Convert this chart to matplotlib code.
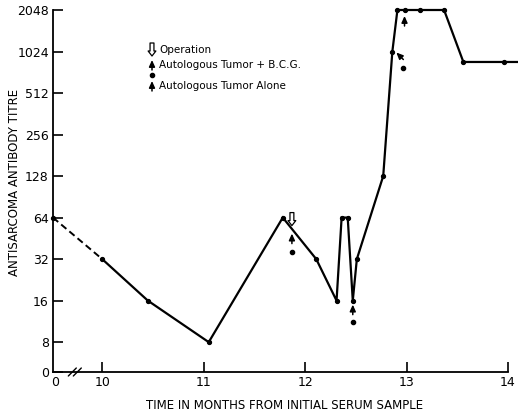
import matplotlib
matplotlib.use("Agg")
import matplotlib.pyplot as plt
from matplotlib.transforms import ScaledTranslation, blended_transform_factory

# ---- data ----
months = [0, 10.0, 10.45, 11.05, 11.78, 12.11, 12.31, 12.36, 12.42, 12.47, 12.51,
          12.77, 12.86, 12.91, 12.98, 13.13, 13.37, 13.56, 13.96]
titres = [64, 32, 16, 8, 64, 32, 16, 64, 64, 16, 32,
          128, 1024, 2048, 2048, 2048, 2048, 860, 860]
line_end_month = 14.10           # line runs on past the last sample
line_end_titre = 860

y_ticks = [8, 16, 32, 64, 128, 256, 512, 1024, 2048]
y_labels = ["8", "16", "32", "64", "128", "256", "512", "1024", "2048"]
x_ticks = [10, 11, 12, 13, 14]
x_labels = ["10", "11", "12", "13", "14"]

# event markers (month, anchor titre)
op_event = (11.87, 64)
bcg_events = [(11.87, 64), (12.47, 16)]
bcg_diag_event = (12.86, 1024)
alone_events = [(12.98, 2048)]

X0 = 9.515       # where month 0 sits on the broken axis
Y0 = 4.86        # where titre "0" sits on the log axis

fig = plt.figure(figsize=(5.18, 4.15), dpi=100)
ax = fig.add_axes([53/518, 1-372/415, (508-53)/518, (372-10)/415])
ax.set_yscale("log", base=2)
ax.set_xlim(X0, 14)
ax.set_ylim(Y0, 2048)
ax.minorticks_off()

px = [X0 if m == 0 else m for m in months]
# dashed first segment, then solid
ax.plot(px[:2], titres[:2], color="black", lw=1.4, ls=(0, (3.5, 2)))
ax.plot(px[1:] + [line_end_month], titres[1:] + [line_end_titre],
        color="black", lw=1.6, clip_on=False, solid_joinstyle="miter")
ax.plot(px, titres, "o", color="black", ms=2.8, clip_on=False)

for s in ["top", "right"]:
    ax.spines[s].set_visible(False)
for s in ["left", "bottom"]:
    ax.spines[s].set_linewidth(1.3)

ax.set_yticks([Y0] + y_ticks)
ax.set_yticklabels(["0"] + y_labels)
ax.set_xticks(x_ticks)
ax.set_xticklabels(x_labels)
ax.tick_params(axis="y", direction="in", length=7, width=1.2, pad=3, labelsize=9)
ax.tick_params(axis="x", direction="in", length=7, width=1.2, pad=3, labelsize=9)
# "0" at the origin on the x axis
ax.text(X0, Y0, "0", transform=ax.transData + ScaledTranslation(2/100, -10/100, fig.dpi_scale_trans),
        ha="center", va="center", fontsize=9)

# axis break marks
tb = blended_transform_factory(ax.transData, ax.transAxes)
for dx in (-2.5, 2.5):
    ax.annotate("", xy=(9.73, 0), xycoords=tb + ScaledTranslation((dx+4)/100, 4/100, fig.dpi_scale_trans),
                xytext=(9.73, 0), textcoords=tb + ScaledTranslation((dx-4)/100, -4/100, fig.dpi_scale_trans),
                arrowprops=dict(arrowstyle="-", lw=1.0, color="black", shrinkA=0, shrinkB=0),
                annotation_clip=False)

def pxoff(dx, dy):
    return ax.transData + ScaledTranslation(dx/100, -dy/100, fig.dpi_scale_trans)

ARROW = dict(arrowstyle="-|>,head_length=0.55,head_width=0.25", lw=1.1, color="black",
             mutation_scale=7, shrinkA=0, shrinkB=0)
OPARROW = dict(arrowstyle="simple,head_length=0.45,head_width=0.7,tail_width=0.35",
               fc="white", ec="black", lw=0.9, mutation_scale=8, shrinkA=0, shrinkB=0)

def up_arrow(x, y, head, tail, dxh=0, dxt=0):
    ax.annotate("", xy=(x, y), xycoords=pxoff(dxh, head), xytext=(x, y),
                textcoords=pxoff(dxt, tail), arrowprops=ARROW, annotation_clip=False)

def dot(x, y, dx, dy):
    ax.plot([x], [y], "o", color="black", ms=3.0, transform=pxoff(dx, dy), clip_on=False)

def op_arrow(x, y, top, bottom):
    ax.annotate("", xy=(x, y), xycoords=pxoff(0, bottom), xytext=(x, y),
                textcoords=pxoff(0, top), arrowprops=OPARROW, annotation_clip=False)

# operation at ~11.87
op_arrow(op_event[0], op_event[1], -5, 8)
# autologous tumor + BCG (arrow + dot)
up_arrow(bcg_events[0][0], bcg_events[0][1], 16, 26)
dot(bcg_events[0][0], bcg_events[0][1], 0, 34)
up_arrow(bcg_events[1][0], bcg_events[1][1], 4, 14)
dot(bcg_events[1][0], bcg_events[1][1], 0, 21)
up_arrow(bcg_diag_event[0], bcg_diag_event[1], 1, 8, dxh=4, dxt=11)
dot(bcg_diag_event[0], bcg_diag_event[1], 11, 16)
# autologous tumor alone
for (x, y) in alone_events:
    up_arrow(x, y, 6, 16)

# legend (hand drawn, figure pixel coords)
def figpt(x, y):
    return (x/518, 1 - y/415)
ft = fig.transFigure
ax.annotate("", xy=figpt(152, 56), xycoords="figure fraction", xytext=figpt(152, 43),
            textcoords="figure fraction", arrowprops=OPARROW, annotation_clip=False)
fig.text(*figpt(159, 50), "Operation", fontsize=7.5, va="center", ha="left")
ax.annotate("", xy=figpt(152, 60), xycoords="figure fraction", xytext=figpt(152, 70),
            textcoords="figure fraction", arrowprops=ARROW, annotation_clip=False)
fig.lines.append(plt.Line2D([152/518], [1 - 75/415], marker="o", ms=3.0, color="black",
                            transform=ft, figure=fig))
fig.text(*figpt(159, 65), "Autologous Tumor + B.C.G.", fontsize=7.5, va="center", ha="left")
ax.annotate("", xy=figpt(152, 81), xycoords="figure fraction", xytext=figpt(152, 91),
            textcoords="figure fraction", arrowprops=ARROW, annotation_clip=False)
fig.text(*figpt(159, 86), "Autologous Tumor Alone", fontsize=7.5, va="center", ha="left")

fig.text(285/518, 1 - 405/415, "TIME IN MONTHS FROM INITIAL SERUM SAMPLE",
         fontsize=8.5, ha="center", va="center")
fig.text(15/518, 1 - 182/415, "ANTISARCOMA ANTIBODY TITRE",
         fontsize=8.5, ha="center", va="center", rotation=90)

fig.savefig("out.png", dpi=100, facecolor="white")
